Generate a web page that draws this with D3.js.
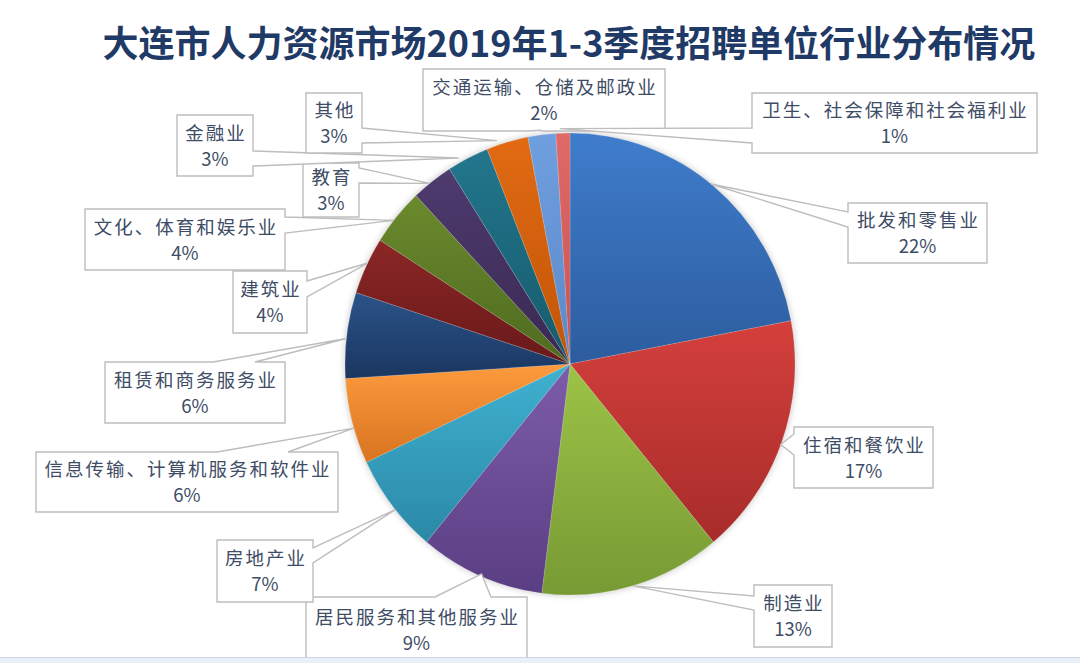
<!DOCTYPE html>
<html><head><meta charset="utf-8">
<script src="https://cdn.jsdelivr.net/npm/d3@7/dist/d3.min.js"></script>
<style>
html,body{margin:0;padding:0;background:#fff;}
svg{display:block;}
</style></head>
<body>
<svg id="chart" width="1080" height="663"></svg>
<script>
// ---- data ----
const title = "大连市人力资源市场2019年1-3季度招聘单位行业分布情况";
const categories = ["批发和零售业","住宿和餐饮业","制造业","居民服务和其他服务业","房地产业",
  "信息传输、计算机服务和软件业","租赁和商务服务业","建筑业","文化、体育和娱乐业","教育",
  "金融业","其他","交通运输、仓储及邮政业","卫生、社会保障和社会福利业"];
const values = [22,17,13,9,7,6,6,4,4,3,3,3,2,1];
const colorsTop = ["#3f7dcc","#d4403c","#9dc347","#7d5ca9","#40b1d0","#fd9b3e","#2b5389","#8b2725","#6b8a2d","#4e3b6f","#22768c","#e26a13","#709fe0","#e06a67"];
const colorsBottom = ["#2c5c9e","#a72c2a","#779a34","#5a3e83","#2a89a7","#d8731f","#1a3660","#69191a","#4e6a20","#392852","#175a6c","#c05508","#5a88c8","#c65252"];

// ---- layout (label boxes: x,y,w,h ; wedge side & base ; anchor fraction in slice, radius factor) ----
const labelLayout = [
  {x:848,y:203,w:139,h:60, side:"left",  b:[212,227], t:0.49, rf:1.0},
  {x:794,y:427,w:139,h:61, side:"left",  b:[434,455], t:0.51, rf:1.0},
  {x:754,y:585,w:78, h:62, side:"left",  b:[596,610], t:0.5,  rf:1.0},
  {x:306,y:597,w:221,h:66, side:"top",   b:[435,491], t:0.5,  rf:0.99},
  {x:217,y:540,w:96, h:62, side:"right", b:[548,563], t:0.45, rf:1.0},
  {x:36, y:452,w:302,h:60, side:"top",   b:[217,288], t:0.42, rf:1.0},
  {x:105,y:362,w:180,h:61, side:"top",   b:[213,255], t:0.46, rf:1.0},
  {x:233,y:271,w:74, h:62, side:"right", b:[281,297], t:0.55, rf:1.0},
  {x:85, y:209,w:200,h:61, side:"right", b:[217,233], t:0.42, rf:1.0},
  {x:303,y:163,w:56, h:54, side:"right", b:[168,183], t:0.43, rf:1.0},
  {x:177,y:115,w:76, h:61, side:"right", b:[151,166], t:0.31, rf:1.02},
  {x:306,y:93, w:56, h:60, side:"right", b:[128,143], t:0.28, rf:1.02},
  {x:423,y:69, w:242,h:62, side:"bottom",b:[528,542], t:0.5,  rf:1.02},
  {x:752,y:93, w:285,h:60, side:"left",  b:[128,143], t:0.3,  rf:1.02}
];

const svg = d3.select("#chart");
const cx = 570, cy = 364, rx = 225, ry = 231;

// title
svg.append("text")
  .attr("x", 569).attr("y", 57)
  .attr("text-anchor", "middle")
  .attr("font-family", "'Noto Sans CJK SC', sans-serif")
  .attr("font-weight", 700)
  .attr("font-size", 36)
  .attr("fill", "#1f3a66")
  .text(title);

const defs = svg.append("defs");
categories.forEach((c, i) => {
  const g = defs.append("linearGradient").attr("id", "g" + i)
    .attr("x1", 0).attr("y1", 0).attr("x2", 0).attr("y2", 1);
  g.append("stop").attr("offset", "0%").attr("stop-color", colorsTop[i]);
  g.append("stop").attr("offset", "100%").attr("stop-color", colorsBottom[i]);
});
const sh = defs.append("filter").attr("id", "shadow").attr("x", "-20%").attr("y", "-20%").attr("width", "140%").attr("height", "140%");
sh.append("feGaussianBlur").attr("stdDeviation", 3);

const pie = d3.pie().sort(null).value(d => d)(values);
const arc = d3.arc().innerRadius(0).outerRadius(rx);

// pie group (slightly elliptical)
const pg = svg.append("g").attr("transform", `translate(${cx},${cy}) scale(1,${ry/rx})`);
pg.append("circle").attr("r", rx + 1).attr("fill", "#000").attr("opacity", 0.18).attr("filter", "url(#shadow)");
pg.selectAll("path.slice").data(pie).join("path")
  .attr("class", "slice")
  .attr("d", arc)
  .attr("fill", (d, i) => `url(#g${i})`)
  .attr("stroke", "rgba(255,255,255,0.25)")
  .attr("stroke-width", 0.6);

// callouts
function calloutPath(L, tip) {
  const x = L.x, y = L.y, w = L.w, h = L.h, b = L.b;
  let p = `M${x},${y}`;
  if (L.side === "top") p += `L${b[0]},${y}L${tip[0]},${tip[1]}L${b[1]},${y}`;
  p += `L${x + w},${y}`;
  if (L.side === "right") p += `L${x + w},${b[0]}L${tip[0]},${tip[1]}L${x + w},${b[1]}`;
  p += `L${x + w},${y + h}`;
  if (L.side === "bottom") p += `L${b[1]},${y + h}L${tip[0]},${tip[1]}L${b[0]},${y + h}`;
  p += `L${x},${y + h}`;
  if (L.side === "left") p += `L${x},${b[1]}L${tip[0]},${tip[1]}L${x},${b[0]}`;
  return p + "Z";
}

const lg = svg.append("g");
pie.forEach((s, i) => {
  const L = labelLayout[i];
  const a = s.startAngle + L.t * (s.endAngle - s.startAngle);
  const tip = [cx + L.rf * rx * Math.sin(a), cy - L.rf * ry * Math.cos(a)];
  const g = lg.append("g");
  g.append("path").attr("d", calloutPath(L, tip))
    .attr("fill", "#fff").attr("stroke", "#bdbdbd").attr("stroke-width", 1.4)
    .attr("stroke-linejoin", "miter");
  const tx = L.x + L.w / 2;
  const y1 = L.y + L.h / 2 - 12, y2 = L.y + L.h / 2 + 14;
  const t = g.append("text")
    .attr("text-anchor", "middle")
    .attr("font-family", "'Noto Sans CJK SC', sans-serif")
    .attr("font-size", 18.5)
    .attr("fill", "#3e4c66");
  t.append("tspan").attr("x", tx + 1).attr("y", y1 + 6).attr("letter-spacing", 2).text(categories[i]);
  t.append("tspan").attr("x", tx).attr("y", y2 + 6).text(values[i] + "%");
});

// bottom band
svg.append("rect").attr("x", 0).attr("y", 657).attr("width", 1080).attr("height", 6).attr("fill", "#e9f0f8");
svg.append("line").attr("x1", 0).attr("x2", 1080).attr("y1", 657.5).attr("y2", 657.5).attr("stroke", "#c9d7e8").attr("stroke-width", 1);
</script>
</body></html>
